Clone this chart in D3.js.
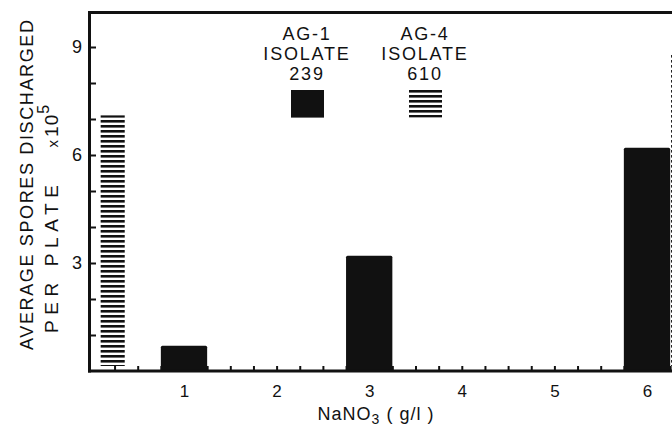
<!DOCTYPE html>
<html>
<head>
<meta charset="UTF-8">
<script src="https://d3js.org/d3.v7.min.js"></script>
<style>
  body { margin: 0; background: #fff; }
  svg { display: block; }
  text { font-family: "Liberation Sans", Arial, Helvetica, sans-serif; fill: #111; }
  .axis path.domain { display: none; }
  .axis line { stroke: #111; stroke-width: 2; }
</style>
</head>
<body>
<script>
// NaNO3 concentration (g/l) and spores discharged per plate (x10^5)
var concAG1 = [1, 3, 6];
var sporesAG1 = [0.7, 3.2, 6.2];
var concAG4 = [0.23, 6.39];
var sporesAG4 = [7.1, 8.8];

var xLabels = [1, 2, 3, 4, 5, 6];
var xMinor = [0.25, 0.5, 0.75, 1, 1.25, 1.5, 1.75, 2, 2.25, 2.5, 2.75, 3, 3.25, 3.5,
              3.75, 4, 4.25, 4.5, 4.75, 5, 5.25, 5.5, 5.75, 6, 6.25];
var yTicks = [1, 2, 3, 4, 5, 6, 7, 8, 9];
var yLabels = [3, 6, 9];

var W = 672, H = 427;
var plotLeft = 91.4, plotBottom = 371, plotTop = 11;

var x = d3.scaleLinear().domain([0, 6.5]).range([plotLeft, plotLeft + 6.5 * 92.6]);
var y = d3.scaleLinear().domain([0, 10]).range([plotBottom, plotTop]);

var svg = d3.select("body").append("svg")
    .attr("width", W).attr("height", H);

var defs = svg.append("defs");
var pat = defs.append("pattern")
    .attr("id", "hatch")
    .attr("patternUnits", "userSpaceOnUse")
    .attr("width", 10).attr("height", 5);
pat.append("rect").attr("x", 0).attr("y", 0)
    .attr("width", 10).attr("height", 2.6).attr("fill", "#111");

// x ticks (small, pointing up into the plot)
svg.append("g").attr("class", "axis")
    .attr("transform", "translate(0," + plotBottom + ")")
    .call(d3.axisBottom(x).tickValues(xMinor).tickSize(-5).tickFormat(""));

// x labels
var xl = svg.append("g").attr("class", "axis")
    .attr("transform", "translate(0," + plotBottom + ")")
    .call(d3.axisBottom(x).tickValues(xLabels).tickSize(0).tickPadding(14).tickFormat(d3.format("d")));
xl.selectAll("text").style("font-size", "17px");

// y ticks pointing inward
var yl = svg.append("g").attr("class", "axis")
    .attr("transform", "translate(88,0)")
    .call(d3.axisLeft(y).tickValues(yTicks).tickSize(-8).tickPadding(6)
        .tickFormat(function(d) { return yLabels.indexOf(d) >= 0 ? d : ""; }));
yl.selectAll("text").style("font-size", "18px");

// bars AG-4 (hatched), drawn first so the solid bars sit on top
svg.selectAll(".barAG4")
    .data(concAG4.map(function(c, i) { return {c: c, v: sporesAG4[i]}; }))
    .enter().append("rect")
    .attr("class", "barAG4")
    .attr("x", function(d) { return x(d.c - 0.13); })
    .attr("width", x(0.26) - x(0))
    .attr("y", function(d) { return y(d.v); })
    .attr("height", function(d) { return y(0) - y(d.v) - 5; })
    .attr("fill", "url(#hatch)");

// bars AG-1 (solid)
svg.selectAll(".barAG1")
    .data(concAG1.map(function(c, i) { return {c: c, v: sporesAG1[i]}; }))
    .enter().append("rect")
    .attr("class", "barAG1")
    .attr("x", function(d) { return x(d.c - 0.25); })
    .attr("width", x(0.5) - x(0))
    .attr("y", function(d) { return y(d.v); })
    .attr("height", function(d) { return y(0) - y(d.v); })
    .attr("fill", "#111")
    .attr("rx", 1.5);

// frame
svg.append("line").attr("x1", 88).attr("x2", W + 5).attr("y1", 12.5).attr("y2", 12.5)
    .attr("stroke", "#111").attr("stroke-width", 3);
svg.append("line").attr("x1", 89.5).attr("x2", 89.5).attr("y1", 11).attr("y2", plotBottom + 1.5)
    .attr("stroke", "#111").attr("stroke-width", 3);
svg.append("line").attr("x1", 88).attr("x2", W + 5).attr("y1", plotBottom).attr("y2", plotBottom)
    .attr("stroke", "#111").attr("stroke-width", 3);

// legend
var legend = [
    {cx: 307, lines: ["AG-1", "ISOLATE", "239"], fill: "#111"},
    {cx: 425, lines: ["AG-4", "ISOLATE", "610"], fill: "url(#hatch)"}
];
legend.forEach(function(l) {
    l.lines.forEach(function(t, i) {
        svg.append("text")
            .attr("x", l.cx).attr("y", 40 + i * 20)
            .attr("text-anchor", "middle")
            .style("font-size", "18px")
            .style("letter-spacing", "1.8px")
            .text(t);
    });
    svg.append("rect")
        .attr("x", l.cx - 16).attr("y", 90)
        .attr("width", 33).attr("height", 27.6)
        .attr("fill", l.fill);
});

// axis titles
var xt = svg.append("text")
    .attr("x", 376).attr("y", 420)
    .attr("text-anchor", "middle")
    .style("font-size", "18px")
    .style("letter-spacing", "1px");
xt.append("tspan").text("NaNO");
xt.append("tspan").attr("dy", 4).style("font-size", "14px").text("3");
xt.append("tspan").attr("dy", -4).text(" ( g/l )");

svg.append("text")
    .attr("transform", "translate(33,185) rotate(-90)")
    .attr("text-anchor", "middle")
    .style("font-size", "18px")
    .attr("textLength", 330)
    .attr("lengthAdjust", "spacing")
    .text("AVERAGE SPORES DISCHARGED");

var yt2 = svg.append("text")
    .attr("transform", "translate(58,333) rotate(-90)")
    .style("font-size", "19px");
yt2.append("tspan").attr("textLength", 148).attr("lengthAdjust", "spacing").text("PER PLATE");
yt2.append("tspan").attr("dx", 32).style("font-size", "15px").text("x");
yt2.append("tspan").attr("dx", 3).style("letter-spacing", "1px").text("10");
yt2.append("tspan").attr("dy", -9).style("font-size", "16px").text("5");
</script>
</body>
</html>
